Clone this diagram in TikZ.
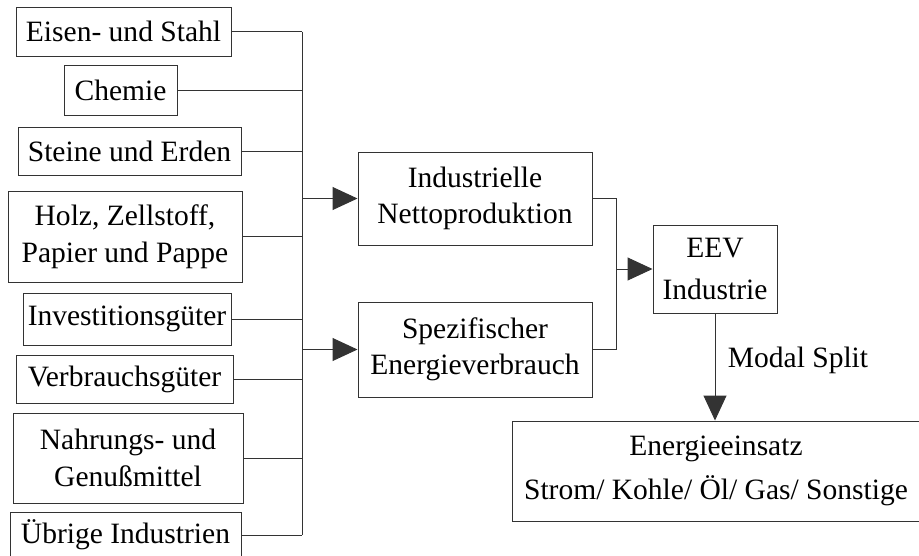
\documentclass[tikz,border=0pt]{standalone}
\usepackage{fontspec}
\newfontfamily\zeit{Liberation Serif}
\usetikzlibrary{arrows.meta}

\begin{document}
\begin{tikzpicture}[
	kasten/.style={draw=black!80, line width=0.7pt, inner sep=0pt, align=center,
		font=\zeit\fontsize{21}{26}\selectfont},
	linie/.style={black!80, line width=0.7pt},
	pfeil/.style={linie, -{Triangle[length=0.625cm, width=0.575cm]}}]
	\useasboundingbox (0,0) rectangle (22.975,-13.875);

	% Branchen
	\node[kasten, minimum width=5.375cm, minimum height=1.225cm] (eisen) at (3.0875,-0.7875) {Eisen- und Stahl};
	\node[kasten, minimum width=2.825cm, minimum height=1.25cm] (chemie) at (3.0125,-2.25) {Chemie};
	\node[kasten, minimum width=5.575cm, minimum height=1.2cm] (steine) at (3.2375,-3.775) {Steine und Erden};
	\node[kasten, minimum width=5.85cm, minimum height=2.275cm] (holz) at (3.125,-5.9125) {Holz, Zellstoff,\\Papier und Pappe};
	\node[kasten, minimum width=5.2cm, minimum height=1.3cm] (invest) at (3.175,-7.975) {Investitionsgüter};
	\node[kasten, minimum width=5.425cm, minimum height=1.2cm] (verbrauch) at (3.1125,-9.475) {Verbrauchsgüter};
	\node[kasten, minimum width=5.75cm, minimum height=2.25cm] (nahrung) at (3.2,-11.45) {Nahrungs- und\\Genußmittel};
	\node[kasten, minimum width=5.775cm, minimum height=1.15cm] (uebrige) at (3.1375,-13.375) {Übrige Industrien};

	% Mitte
	\node[kasten, minimum width=5.85cm, minimum height=2.325cm] (indus) at (11.875,-4.9625) {Industrielle\\Nettoproduktion};
	\node[kasten, minimum width=5.85cm, minimum height=2.375cm] (spez) at (11.875,-8.7375) {Spezifischer\\Energieverbrauch};

	% Rechts
	\node[kasten, font=\zeit\fontsize{21}{30}\selectfont, minimum width=3.1cm, minimum height=2.2cm] (eev) at (17.875,-6.725) {EEV\\Industrie};
	\node[kasten, font=\zeit\fontsize{21}{31}\selectfont, minimum width=10.2cm, minimum height=2.5cm] (energie) at (17.9,-11.775) {Energieeinsatz\\Strom/ Kohle/ Öl/ Gas/ Sonstige};
	\node[font=\zeit\fontsize{21}{26}\selectfont] (modal) at (19.95,-9.0) {Modal Split};

	\coordinate (bus1) at (7.55,0); % Sammelschiene links
	\coordinate (bus2) at (15.4,0); % Sammelschiene rechts

	\draw[linie] (eisen.east -| bus1) -- (uebrige.east -| bus1);
	\foreach \b in {eisen,chemie,steine,holz,invest,verbrauch,nahrung,uebrige}
		\draw[linie] (\b.east) -- (\b.east -| bus1);
	\draw[pfeil] (indus.west -| bus1) -- (indus.west);
	\draw[pfeil] (spez.west -| bus1) -- (spez.west);

	\draw[linie] (indus.east) -- (indus.east -| bus2) -- (spez.east -| bus2) -- (spez.east);
	\draw[pfeil] (eev.west -| bus2) -- (eev.west);
	\draw[pfeil] (eev.south) -- (eev.south |- energie.north);
\end{tikzpicture}
\end{document}
